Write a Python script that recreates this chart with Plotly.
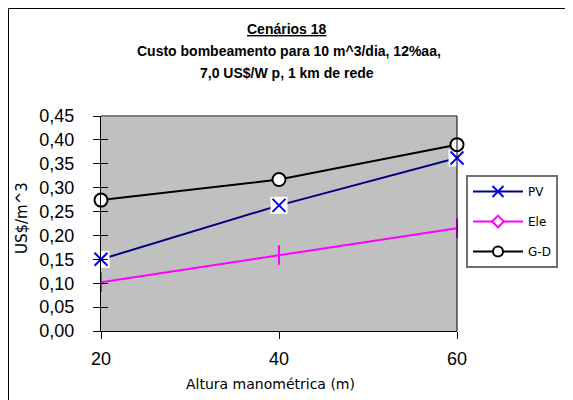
import plotly.graph_objects as go

altura = [20, 40, 60]
pv = [0.150, 0.263, 0.362]
ele = [0.102, 0.159, 0.215]
gd = [0.274, 0.317, 0.390]
y_ticks = [0.0, 0.05, 0.10, 0.15, 0.20, 0.25, 0.30, 0.35, 0.40, 0.45]

# page has an 8px body margin, so the figure is 8px smaller
OFF = 8
W, H = 573 - OFF, 400 - OFF
# plot area in page coordinates: left 101, right 457, top 116, bottom 331
L, R, T, B = 101 - OFF, W - (457 - OFF), 116 - OFF, H - (331 - OFF)

def px(x):
    return (x - 101) / (457 - 101)

def py(y):
    return (331 - y) / (331 - 116)

fig = go.Figure()

# PV line, white box behind markers, blue x markers
fig.add_trace(go.Scatter(x=altura, y=pv, mode="lines", line=dict(color="#000080", width=2),
                         showlegend=False, legendgroup="pv", cliponaxis=False, hoverinfo="skip"))
fig.add_trace(go.Scatter(x=altura, y=pv, mode="markers",
                         marker=dict(symbol="square", size=17, color="white", line=dict(width=0)),
                         showlegend=False, legendgroup="pv", cliponaxis=False, hoverinfo="skip"))
fig.add_trace(go.Scatter(x=altura, y=pv, mode="markers",
                         marker=dict(symbol="x-thin", size=13, line=dict(color="#0000FF", width=2)),
                         showlegend=False, legendgroup="pv", cliponaxis=False, name="PV"))
# Ele
fig.add_trace(go.Scatter(x=altura, y=ele, mode="lines+markers", line=dict(color="#FF00FF", width=2),
                         marker=dict(symbol="line-ns", size=14, line=dict(color="#FF00FF", width=2)),
                         showlegend=False, legendgroup="ele", cliponaxis=False, name="Ele"))
# G-D
fig.add_trace(go.Scatter(x=altura, y=gd, mode="lines+markers", line=dict(color="#000000", width=2),
                         marker=dict(symbol="circle", size=13, color="white", line=dict(color="black", width=2)),
                         showlegend=False, legendgroup="gd", cliponaxis=False, name="G-D"))

# legend entries
fig.add_trace(go.Scatter(x=[None], y=[None], mode="lines+markers", name="PV", legendgroup="pv",
                         line=dict(color="#000080", width=2),
                         marker=dict(symbol="x-thin", size=11, line=dict(color="#0000FF", width=2))))
fig.add_trace(go.Scatter(x=[None], y=[None], mode="lines+markers", name="Ele", legendgroup="ele",
                         line=dict(color="#FF00FF", width=2),
                         marker=dict(symbol="diamond", size=9, color="white", line=dict(color="#FF00FF", width=2))))
fig.add_trace(go.Scatter(x=[None], y=[None], mode="lines+markers", name="G-D", legendgroup="gd",
                         line=dict(color="#000000", width=2),
                         marker=dict(symbol="circle", size=10, color="white", line=dict(color="black", width=2))))

# secondary axis for inside half of cross ticks
fig.add_trace(go.Scatter(x=[None], y=[None], yaxis="y2", showlegend=False, hoverinfo="skip"))

tick_font = dict(family="Liberation Sans, Arial", size=18, color="black")

fig.update_layout(
    width=W, height=H,
    margin=dict(l=L, r=R, t=T, b=B, autoexpand=False),
    paper_bgcolor="white",
    plot_bgcolor="#C0C0C0",
    separators=",.",
    showlegend=True,
    legend=dict(x=px(466), y=py(175), xanchor="left", yanchor="top",
                bgcolor="white", bordercolor="#707070", borderwidth=2,
                font=dict(family="DejaVu Sans, Arial", size=12, color="black"),
                traceorder="grouped", tracegroupgap=11, itemwidth=50),
    xaxis=dict(range=[20, 60], tickvals=altura, ticktext=[str(a) for a in altura],
               showgrid=False, zeroline=False, showline=True, linecolor="black", linewidth=1,
               ticks="outside", ticklen=7, tickcolor="black", tickfont=tick_font,
               ticklabelstandoff=4),
    yaxis=dict(range=[0, 0.45], tickvals=y_ticks, tickformat=".2f",
               showgrid=False, zeroline=False, showline=True, linecolor="black", linewidth=1,
               ticks="outside", ticklen=7, tickcolor="black", tickfont=tick_font,
               ticklabelstandoff=15),
    yaxis2=dict(range=[0, 0.45], tickvals=y_ticks, overlaying="y", side="left",
                showticklabels=False, showgrid=False, zeroline=False, showline=False,
                ticks="inside", ticklen=7, tickcolor="black"),
    shapes=[
        dict(type="line", xref="paper", yref="paper", x0=0, x1=1, y0=1, y1=1,
             line=dict(color="#808080", width=2)),
        dict(type="line", xref="paper", yref="paper", x0=1, x1=1, y0=0, y1=1,
             line=dict(color="black", width=1)),
        dict(type="rect", xref="paper", yref="paper", x0=px(8.5), x1=px(600), y0=py(420), y1=py(8.5),
             line=dict(color="black", width=1), layer="below"),
    ],
    annotations=[
        dict(text="<b><u>Cenários 18</u></b>", x=px(287), y=py(29), xref="paper", yref="paper",
             xanchor="center", yanchor="middle", showarrow=False,
             font=dict(family="Liberation Sans, Arial", size=14, color="black")),
        dict(text="<b>Custo bombeamento para 10 m^3/dia, 12%aa,</b>", x=px(289), y=py(51),
             xref="paper", yref="paper", xanchor="center", yanchor="middle", showarrow=False,
             font=dict(family="Liberation Sans, Arial", size=14, color="black")),
        dict(text="<b>7,0 US$/W p, 1 km de rede</b>", x=px(287), y=py(73),
             xref="paper", yref="paper", xanchor="center", yanchor="middle", showarrow=False,
             font=dict(family="Liberation Sans, Arial", size=14, color="black")),
        dict(text="Altura manométrica (m)", x=px(270), y=py(384), xref="paper", yref="paper",
             xanchor="center", yanchor="middle", showarrow=False,
             font=dict(family="DejaVu Sans, Arial", size=14, color="black")),
        dict(text="US$/m^3", x=px(22), y=py(218), xref="paper", yref="paper", textangle=-90,
             xanchor="center", yanchor="middle", showarrow=False,
             font=dict(family="DejaVu Sans, Arial", size=15, color="black")),
    ],
)

fig.write_html("out.html")
